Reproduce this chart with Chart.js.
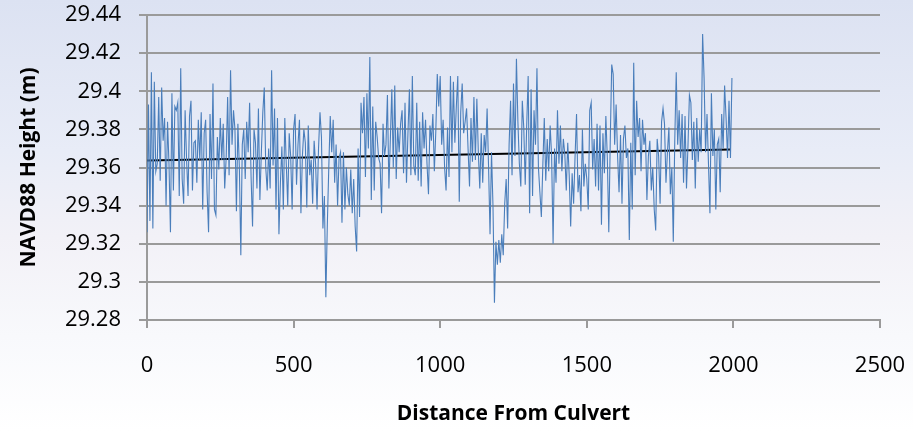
<!DOCTYPE html>
<html>
<head>
<meta charset="utf-8">
<script src="https://cdn.jsdelivr.net/npm/chart.js@4/dist/chart.umd.min.js"></script>
<style>
  html, body { margin: 0; padding: 0; }
  body {
    width: 913px; height: 431px; overflow: hidden;
    background: linear-gradient(to bottom, #dce2f2 0%, #e8ecf7 35%, #f2f1f7 55%, #f8f9fc 78%, #ffffff 100%);
  }
  canvas { display: block; }
</style>
</head>
<body>
<canvas id="grafico" width="913" height="431"></canvas>
<script>
// heights, one every 5 m from the culvert
const step = 5;
const heights = [
  29.326, 29.393, 29.332, 29.410, 29.328, 29.405, 29.358, 29.362, 29.397, 29.353, 29.402, 29.374, 29.386, 29.340, 29.384, 29.362, 29.326, 29.399, 29.348, 29.392,
  29.390, 29.394, 29.345, 29.412, 29.354, 29.341, 29.390, 29.364, 29.345, 29.387, 29.395, 29.348, 29.373, 29.374, 29.352, 29.385, 29.364, 29.389, 29.338, 29.378,
  29.385, 29.347, 29.326, 29.388, 29.354, 29.404, 29.338, 29.335, 29.376, 29.359, 29.386, 29.364, 29.383, 29.349, 29.365, 29.397, 29.356, 29.411, 29.372, 29.390,
  29.380, 29.337, 29.383, 29.360, 29.314, 29.372, 29.380, 29.354, 29.384, 29.368, 29.394, 29.355, 29.329, 29.380, 29.373, 29.349, 29.391, 29.343, 29.368, 29.389,
  29.402, 29.360, 29.348, 29.370, 29.349, 29.411, 29.361, 29.391, 29.338, 29.386, 29.325, 29.352, 29.371, 29.338, 29.386, 29.362, 29.340, 29.378, 29.366, 29.338,
  29.380, 29.388, 29.351, 29.372, 29.385, 29.336, 29.366, 29.380, 29.373, 29.339, 29.382, 29.356, 29.364, 29.341, 29.374, 29.362, 29.338, 29.370, 29.389, 29.376,
  29.328, 29.345, 29.292, 29.330, 29.360, 29.387, 29.368, 29.385, 29.352, 29.372, 29.340, 29.365, 29.368, 29.331, 29.368, 29.338, 29.360, 29.346, 29.340, 29.359,
  29.336, 29.354, 29.329, 29.316, 29.370, 29.334, 29.394, 29.378, 29.397, 29.355, 29.399, 29.370, 29.418, 29.343, 29.392, 29.348, 29.384, 29.376, 29.365, 29.362,
  29.336, 29.383, 29.366, 29.372, 29.398, 29.349, 29.375, 29.401, 29.360, 29.403, 29.354, 29.381, 29.368, 29.383, 29.390, 29.357, 29.394, 29.352, 29.378, 29.401,
  29.356, 29.408, 29.361, 29.356, 29.394, 29.353, 29.384, 29.350, 29.389, 29.370, 29.385, 29.362, 29.346, 29.382, 29.374, 29.388, 29.358, 29.379, 29.409, 29.392,
  29.408, 29.372, 29.385, 29.360, 29.348, 29.381, 29.355, 29.408, 29.368, 29.405, 29.373, 29.392, 29.408, 29.342, 29.389, 29.404, 29.378, 29.384, 29.391, 29.370,
  29.350, 29.386, 29.363, 29.397, 29.364, 29.396, 29.368, 29.349, 29.378, 29.352, 29.377, 29.368, 29.391, 29.360, 29.325, 29.368, 29.340, 29.289, 29.321, 29.309,
  29.322, 29.310, 29.325, 29.314, 29.341, 29.354, 29.328, 29.372, 29.395, 29.356, 29.404, 29.366, 29.417, 29.384, 29.362, 29.350, 29.395, 29.381, 29.351, 29.382,
  29.408, 29.336, 29.401, 29.345, 29.390, 29.372, 29.412, 29.360, 29.347, 29.334, 29.361, 29.386, 29.353, 29.375, 29.358, 29.382, 29.366, 29.320, 29.370, 29.352,
  29.390, 29.362, 29.382, 29.358, 29.375, 29.367, 29.348, 29.373, 29.356, 29.329, 29.357, 29.341, 29.366, 29.388, 29.347, 29.356, 29.337, 29.380, 29.350, 29.362,
  29.354, 29.338, 29.390, 29.394, 29.359, 29.375, 29.350, 29.383, 29.348, 29.382, 29.330, 29.378, 29.357, 29.387, 29.365, 29.326, 29.374, 29.414, 29.409, 29.372,
  29.393, 29.366, 29.347, 29.377, 29.341, 29.375, 29.382, 29.365, 29.370, 29.322, 29.373, 29.338, 29.415, 29.356, 29.395, 29.376, 29.386, 29.358, 29.385, 29.372,
  29.378, 29.343, 29.366, 29.374, 29.348, 29.360, 29.338, 29.327, 29.375, 29.366, 29.341, 29.384, 29.391, 29.383, 29.352, 29.368, 29.381, 29.346, 29.360, 29.321,
  29.374, 29.410, 29.372, 29.390, 29.365, 29.388, 29.352, 29.387, 29.349, 29.371, 29.398, 29.394, 29.364, 29.384, 29.349, 29.386, 29.363, 29.380, 29.368, 29.430,
  29.407, 29.368, 29.388, 29.362, 29.336, 29.399, 29.366, 29.380, 29.338, 29.372, 29.375, 29.347, 29.388, 29.370, 29.403, 29.386, 29.365, 29.395, 29.365, 29.407
];

// linear trend drawn by the spreadsheet
const trendX = [0, 1990];
const trendY = [29.3637, 29.3695];

const gridCor = '#9a9a9a';
const fonte = 'Open Sans';

const ctx = document.getElementById('grafico').getContext('2d');

const grafico = new Chart(ctx, {
    type: 'line',
    data: {
        datasets: [{
            label: 'Height',
            data: heights.map((h, i) => ({ x: i * step, y: h })),
            borderColor: '#4a7ebb',
            borderWidth: 1.1,
            pointRadius: 0,
            tension: 0
        }, {
            label: 'Trend',
            data: trendX.map((x, i) => ({ x: x, y: trendY[i] })),
            borderColor: '#000000',
            borderWidth: 2,
            pointRadius: 0
        }]
    },
    options: {
        responsive: false,
        animation: false,
        layout: { padding: { top: 15, right: 33, left: 0, bottom: 0 } },
        plugins: {
            legend: { display: false },
            tooltip: { enabled: false }
        },
        scales: {
            x: {
                type: 'linear',
                min: 0,
                max: 2500,
                ticks: {
                    stepSize: 500,
                    color: '#000',
                    padding: 25,
                    font: { family: fonte, size: 22 },
                    callback: (v) => String(v)
                },
                grid: { drawOnChartArea: false, color: gridCor, lineWidth: 2, tickLength: 8 },
                border: { color: gridCor, width: 2 },
                title: {
                    display: true,
                    text: 'Distance From Culvert',
                    color: '#000',
                    font: { family: fonte, size: 21, weight: 'bold' },
                    padding: { top: 0, bottom: 4 }
                },
                afterFit: (scale) => {
                    scale.height = 111;
                    scale.paddingLeft = 0;
                    scale.paddingRight = 0;
                }
            },
            y: {
                min: 29.28,
                max: 29.44,
                ticks: {
                    stepSize: 0.02,
                    color: '#000',
                    padding: 18,
                    font: { family: fonte, size: 22 },
                    callback: (v) => String(Number(v.toFixed(2)))
                },
                grid: { color: gridCor, lineWidth: 2, tickLength: 8 },
                border: { color: gridCor, width: 2 },
                title: {
                    display: true,
                    text: 'NAVD88 Height (m)',
                    color: '#000',
                    font: { family: fonte, size: 21, weight: 'bold' },
                    padding: { top: 16, bottom: 0 }
                },
                afterFit: (scale) => {
                    scale.width = 147;
                    scale.paddingTop = 0;
                    scale.paddingBottom = 0;
                }
            }
        }
    }
});
</script>
</body>
</html>
